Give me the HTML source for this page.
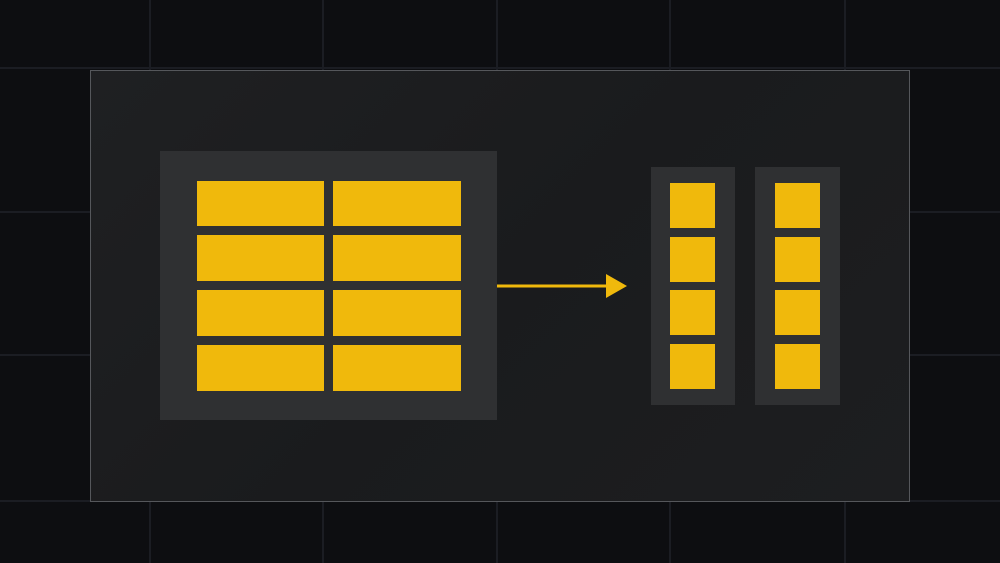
<!DOCTYPE html>
<html><head><style>
body{margin:0;width:1000px;height:563px;background:#0d0e11;position:relative;overflow:hidden}
.g{position:absolute;background:#1b1d23}
.a{position:absolute}
.y{position:absolute;background:#f0b90c}
</style></head><body>
<div class="g" style="left:149px;top:0;width:2px;height:563px"></div>
<div class="g" style="left:322px;top:0;width:2px;height:563px"></div>
<div class="g" style="left:496px;top:0;width:2px;height:563px"></div>
<div class="g" style="left:669px;top:0;width:2px;height:563px"></div>
<div class="g" style="left:844px;top:0;width:2px;height:563px"></div>
<div class="g" style="left:0;top:67px;width:1000px;height:2px"></div>
<div class="g" style="left:0;top:211px;width:1000px;height:2px"></div>
<div class="g" style="left:0;top:354px;width:1000px;height:2px"></div>
<div class="g" style="left:0;top:500px;width:1000px;height:2px"></div>
<div class="a" style="left:90px;top:70px;width:818px;height:430px;border:1px solid #55575b;background:linear-gradient(135deg,#1f2022,#1a1b1d 50%,#1d1e20)"></div>
<div class="a" style="left:160px;top:151px;width:337px;height:269px;background:#2f3032"></div>
<div class="y" style="left:197px;top:181px;width:127px;height:45px"></div>
<div class="y" style="left:333px;top:181px;width:128px;height:45px"></div>
<div class="y" style="left:197px;top:235px;width:127px;height:46px"></div>
<div class="y" style="left:333px;top:235px;width:128px;height:46px"></div>
<div class="y" style="left:197px;top:290px;width:127px;height:46px"></div>
<div class="y" style="left:333px;top:290px;width:128px;height:46px"></div>
<div class="y" style="left:197px;top:345px;width:127px;height:46px"></div>
<div class="y" style="left:333px;top:345px;width:128px;height:46px"></div>
<svg class="a" style="left:0;top:0" width="1000" height="563"><line x1="497" y1="286" x2="608" y2="286" stroke="#f0b90c" stroke-width="3"/><polygon points="606,274 627,286 606,298" fill="#f0b90c"/></svg>
<div class="a" style="left:651px;top:167px;width:84px;height:238px;background:#2f3032"></div>
<div class="a" style="left:755px;top:167px;width:85px;height:238px;background:#2f3032"></div>
<div class="y" style="left:670px;top:183px;width:45px;height:45px"></div>
<div class="y" style="left:670px;top:237px;width:45px;height:45px"></div>
<div class="y" style="left:670px;top:290px;width:45px;height:45px"></div>
<div class="y" style="left:670px;top:344px;width:45px;height:45px"></div>
<div class="y" style="left:775px;top:183px;width:45px;height:45px"></div>
<div class="y" style="left:775px;top:237px;width:45px;height:45px"></div>
<div class="y" style="left:775px;top:290px;width:45px;height:45px"></div>
<div class="y" style="left:775px;top:344px;width:45px;height:45px"></div>
</body></html>
